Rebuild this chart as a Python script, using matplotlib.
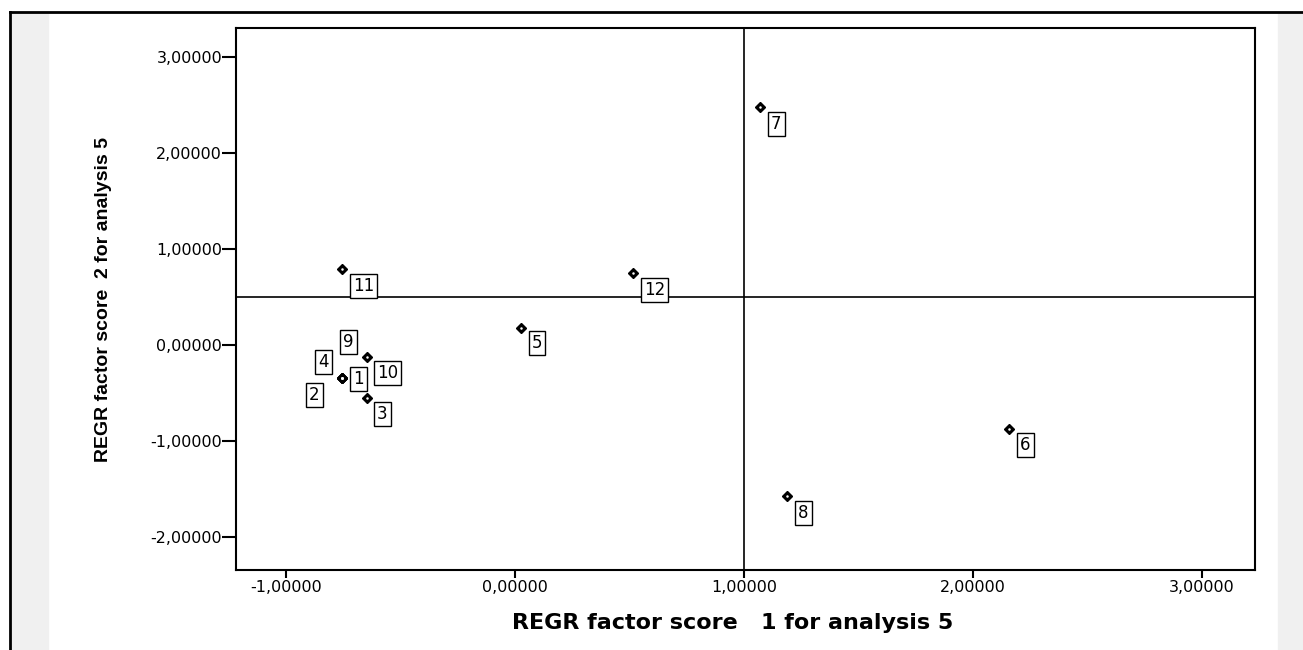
import matplotlib
matplotlib.use("Agg")
import matplotlib.pyplot as plt
from matplotlib.ticker import FuncFormatter
from matplotlib.patches import Rectangle
from matplotlib.lines import Line2D

# factor scores per case
case_ids = ["1", "2", "3", "4", "5", "6", "7", "8", "9", "10", "11", "12"]
score_1 = [-0.755, -0.755, -0.646, -0.755, 0.026, 2.157, 1.070, 1.188, -0.755, -0.646, -0.755, 0.515]
score_2 = [-0.344, -0.344, -0.552, -0.344, 0.177, -0.875, 2.479, -1.573, -0.344, -0.125, 0.792, 0.750]

x_ticks = [-1, 0, 1, 2, 3]
y_ticks = [-2, -1, 0, 1, 2, 3]
ref_x = 1.0
ref_y = 0.5

# label box offsets in pixels (left edge, downwards) where SPSS moved them
default_off = (8, 17)
label_off = {"1": (8, 1), "4": (-27, -16), "9": (-2, -36), "2": (-36, 17),
             "10": (7, 16), "3": (7, 16), "5": (8, 15), "6": (8, 16)}

fig = plt.figure(figsize=(13.03, 6.5), dpi=100)

# page frame and grey margins
fig.add_artist(Rectangle((11 / 1303, 0), 37 / 1303, 1 - 13 / 650,
                         transform=fig.transFigure, color="#f0f0f0", zorder=0))
fig.add_artist(Rectangle((1278 / 1303, 0), 25 / 1303, 1 - 13 / 650,
                         transform=fig.transFigure, color="#f0f0f0", zorder=0))
fig.add_artist(Line2D([10 / 1303, 10 / 1303], [0, 1 - 12 / 650], color="black", lw=2,
                      transform=fig.transFigure))
fig.add_artist(Line2D([10 / 1303, 1], [1 - 12 / 650, 1 - 12 / 650], color="black", lw=2,
                      transform=fig.transFigure))

ax = fig.add_axes([236 / 1303, 80 / 650, 1019 / 1303, 542 / 650])
ax.set_xlim(-1.218, 3.231)
ax.set_ylim(-2.344, 3.302)

ax.axvline(ref_x, color="black", lw=1.2, zorder=1)
ax.axhline(ref_y, color="black", lw=1.2, zorder=1)

ax.plot(score_1, score_2, linestyle="none", marker="D", markersize=5.5,
        color="black", zorder=3)
ax.plot(score_1, score_2, linestyle="none", marker="o", markersize=0.8,
        color="white", zorder=4)

for cid, xv, yv in zip(case_ids, score_1, score_2):
    dx, dy = label_off.get(cid, default_off)
    ax.annotate(cid, (xv, yv), xytext=(dx + 3, -dy), textcoords="offset pixels",
                ha="left", va="center", fontsize=12, family="DejaVu Sans",
                bbox=dict(boxstyle="square,pad=0.18", fc="white", ec="black", lw=1),
                zorder=5)

fmt = FuncFormatter(lambda v, p: f"{v:.5f}".replace(".", ","))
ax.set_xticks(x_ticks)
ax.set_yticks(y_ticks)
ax.xaxis.set_major_formatter(fmt)
ax.yaxis.set_major_formatter(fmt)
ax.tick_params(axis="x", length=6, width=1.5, pad=1, labelsize=11.5)
ax.tick_params(axis="y", length=10, width=1.5, pad=0, labelsize=11.5)
for sp in ax.spines.values():
    sp.set_linewidth(1.5)

ax.set_xlabel("REGR factor score   1 for analysis 5", fontsize=16,
              fontweight="bold", family="DejaVu Sans")
ax.xaxis.set_label_coords(0.487, -0.079)
ax.set_ylabel("REGR factor score  2 for analysis 5", fontsize=14,
              fontweight="bold", family=["Liberation Sans", "DejaVu Sans"])
ax.yaxis.set_label_coords(-0.1217, 0.5)

fig.savefig("out.png", dpi=100)
